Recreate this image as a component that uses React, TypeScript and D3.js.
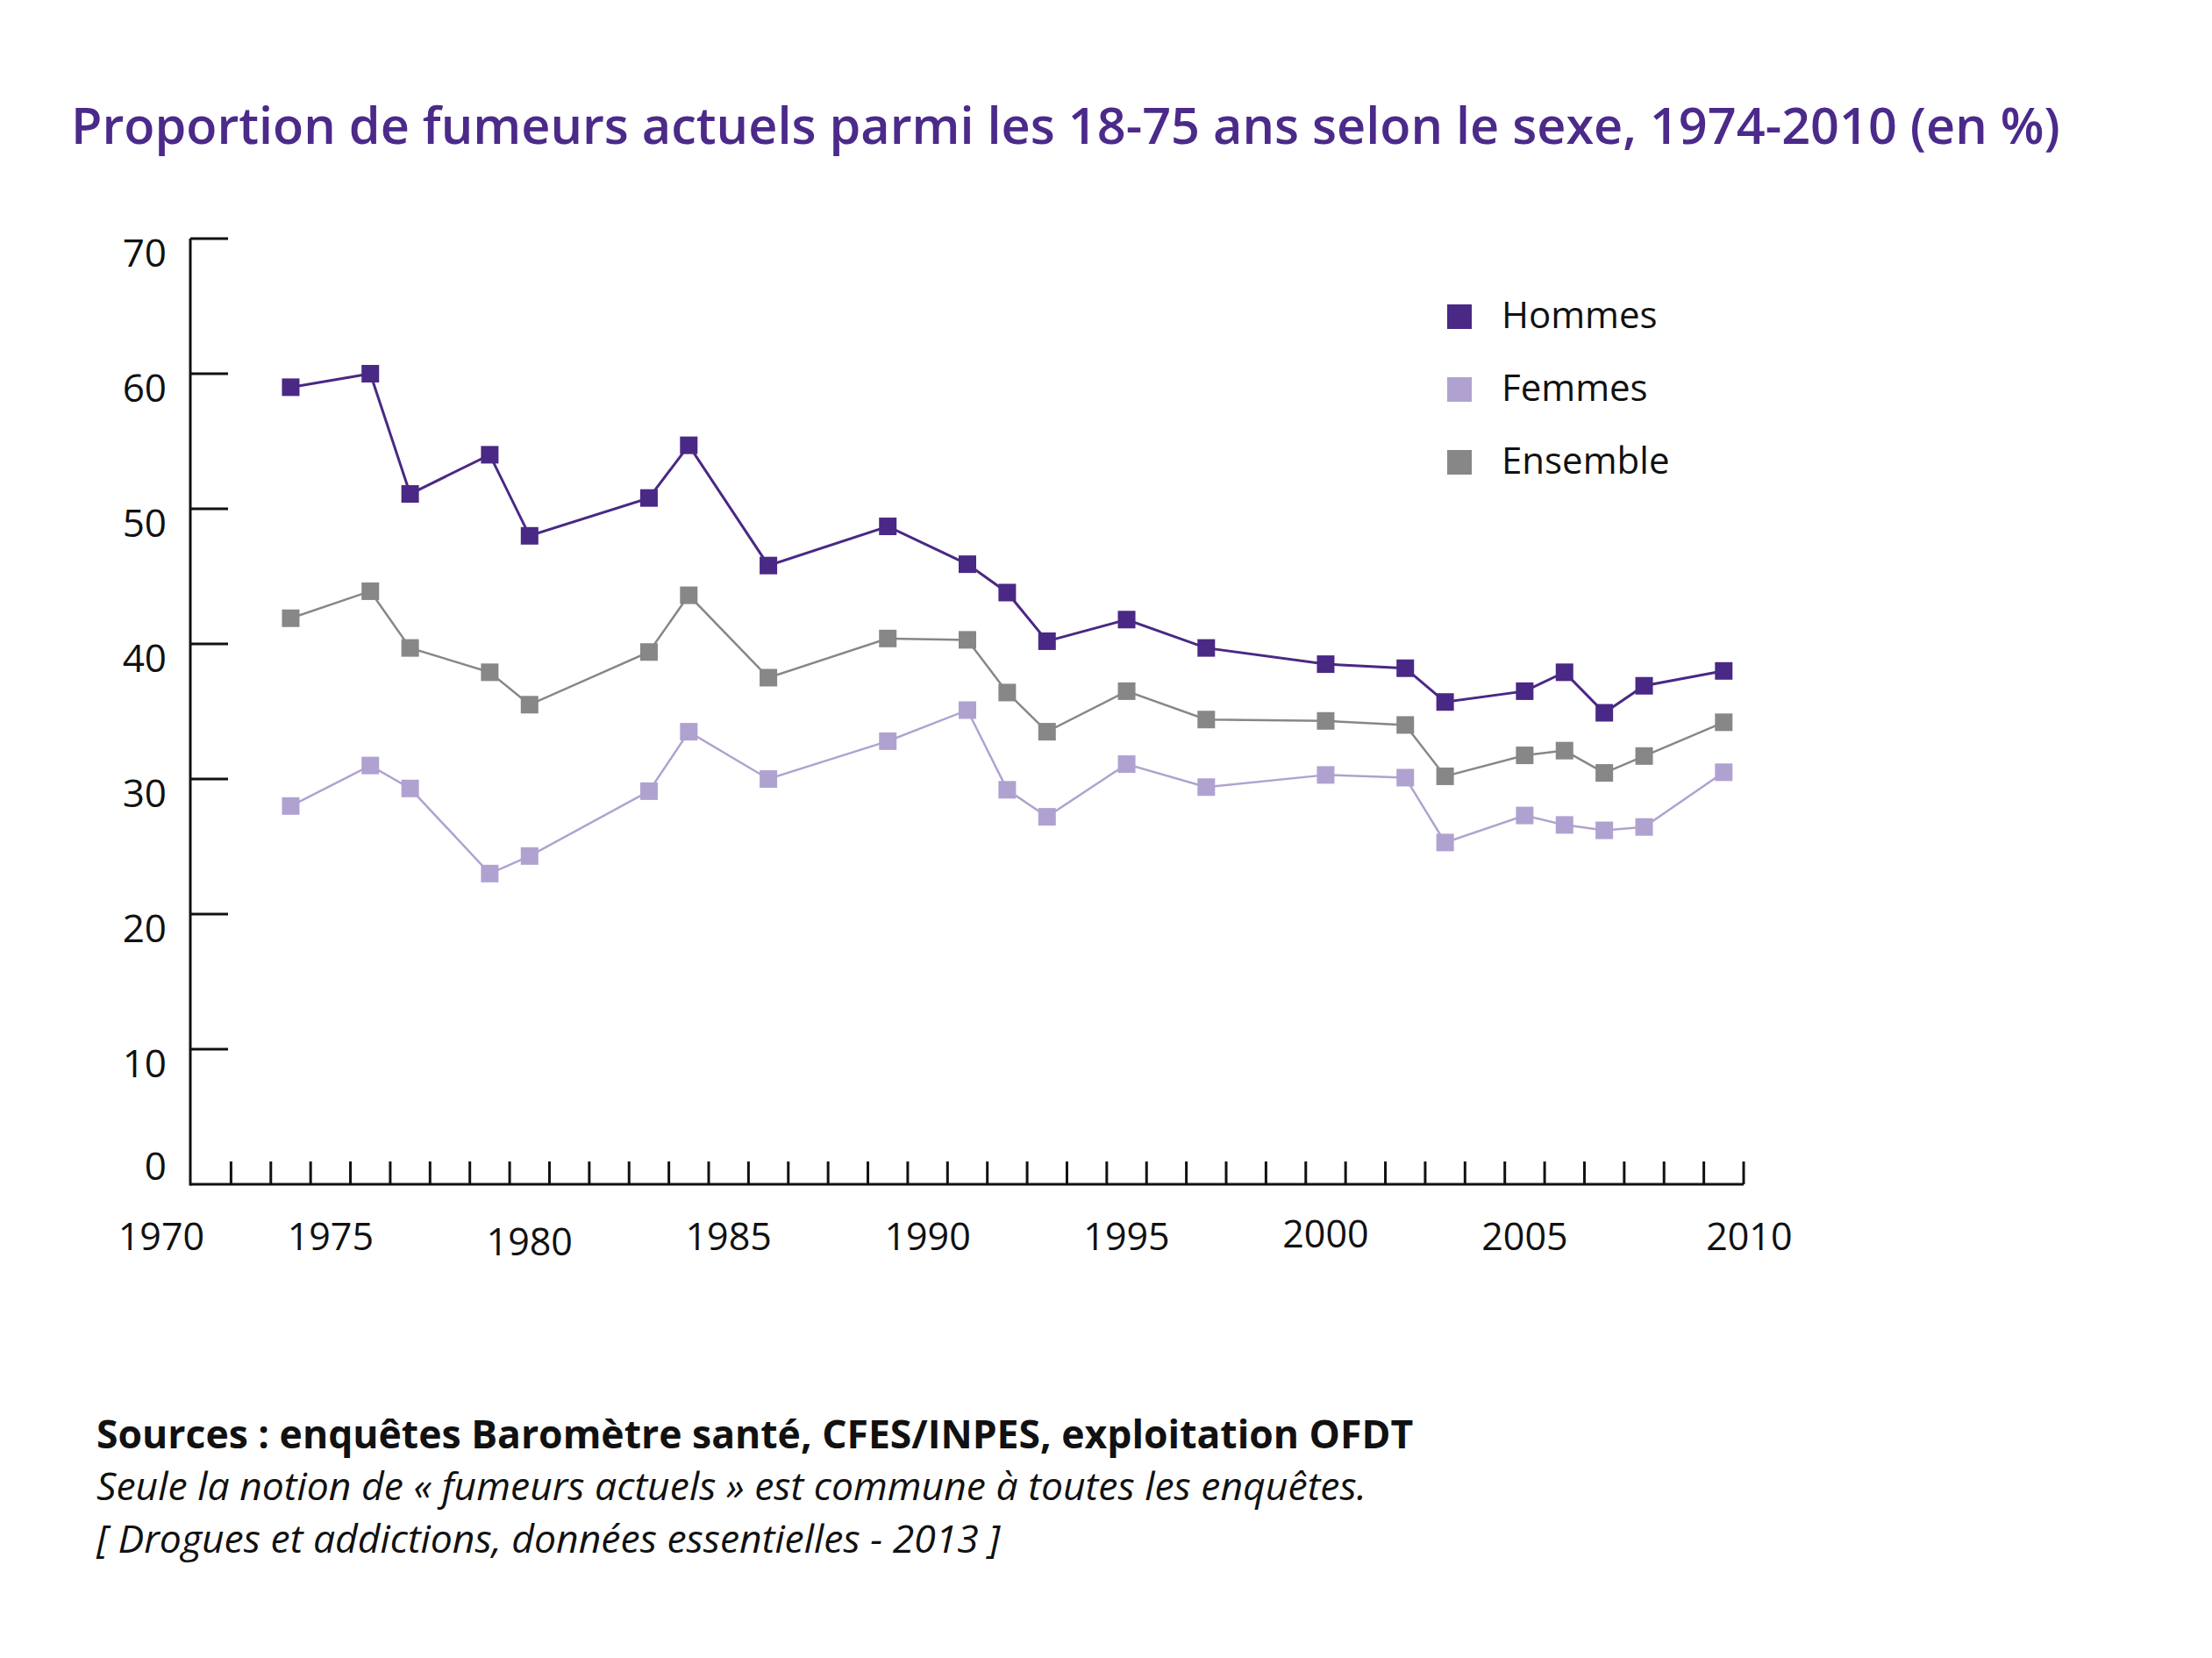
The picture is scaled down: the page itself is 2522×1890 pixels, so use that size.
import React, {useEffect, useRef} from "react";
import * as d3 from "d3";

// Years where a survey exists
const years = [
  1974, 1976, 1977, 1979, 1980, 1983, 1984, 1986, 1989, 1991, 1992, 1993,
  1995, 1997, 2000, 2002, 2003, 2005, 2006, 2007, 2008, 2010,
];

const hommes = [
  59, 60, 51.1, 54, 48, 50.8, 54.7, 45.8, 48.7, 45.9, 43.8, 40.2, 41.8, 39.7,
  38.5, 38.2, 35.7, 36.5, 37.9, 34.9, 36.9, 38,
];
const femmes = [
  28, 31, 29.3, 23, 24.3, 29.1, 33.5, 30, 32.8, 35.1, 29.2, 27.2, 31.1, 29.4,
  30.3, 30.1, 25.3, 27.3, 26.6, 26.2, 26.45, 30.5,
];
const ensemble = [
  41.9, 43.9, 39.7, 37.9, 35.5, 39.4, 43.6, 37.5, 40.4, 40.3, 36.4, 33.5, 36.5,
  34.4, 34.3, 34.0, 30.2, 31.75, 32.1, 30.45, 31.7, 34.2,
];

const seriesNames = ["Hommes", "Femmes", "Ensemble"];
const seriesColors = ["#4a2885", "#b0a2d0", "#878787"];

const yTicks = [0, 10, 20, 30, 40, 50, 60, 70];
const yearLabels = [1970, 1975, 1980, 1985, 1990, 1995, 2000, 2005, 2010];

const title =
  "Proportion de fumeurs actuels parmi les 18-75 ans selon le sexe, 1974-2010 (en %)";
const sourceLine = "Sources : enquêtes Baromètre santé, CFES/INPES, exploitation OFDT";
const noteLine = "Seule la notion de « fumeurs actuels » est commune à toutes les enquêtes.";
const refLine = "[ Drogues et addictions, données essentielles - 2013 ]";

const FONT = "'Open Sans', 'Noto Sans', sans-serif";

function createChart(node: SVGSVGElement) {
  const svg = d3.select(node);
  svg.selectAll("*").remove();

  const left = 217,
    right = 1988,
    top = 272,
    bottom = 1350;

  // one band per year, ticks sit between years
  const x = d3.scaleLinear().domain([1971.5, 2010.5]).range([left + 1, right]);
  const y = d3.scaleLinear().domain([0, 70]).range([bottom, top]);

  svg
    .append("text")
    .attr("x", 81)
    .attr("y", 164)
    .attr("font-family", FONT)
    .attr("font-weight", 600)
    .attr("font-size", 57.6)
    .attr("fill", "#4b2a8a")
    .text(title);

  const axis = svg.append("g").attr("stroke", "#111").attr("stroke-width", 3);

  // y axis
  axis
    .append("line")
    .attr("x1", left)
    .attr("x2", left)
    .attr("y1", y(70))
    .attr("y2", bottom + 1.5);
  axis
    .selectAll(".ytick")
    .data(yTicks.filter((d) => d > 0))
    .enter()
    .append("line")
    .attr("x1", left)
    .attr("x2", left + 43)
    .attr("y1", (d) => y(d))
    .attr("y2", (d) => y(d));

  // labels hang below their tick, except 0 which sits on the axis
  svg
    .append("g")
    .selectAll("text")
    .data(yTicks)
    .enter()
    .append("text")
    .attr("x", 190)
    .attr("y", (d) => (d === 0 ? y(d) - 5 : y(d) + 32))
    .attr("text-anchor", "end")
    .attr("font-family", FONT)
    .attr("font-size", 44)
    .attr("fill", "#111")
    .text((d) => d);

  // x axis
  axis
    .append("line")
    .attr("x1", left)
    .attr("x2", right)
    .attr("y1", bottom)
    .attr("y2", bottom);
  const boundaries = d3.range(1972.5, 2011, 1);
  axis
    .selectAll(".xtick")
    .data(boundaries)
    .enter()
    .append("line")
    .attr("x1", (d) => x(d))
    .attr("x2", (d) => x(d))
    .attr("y1", bottom)
    .attr("y2", bottom - 26);

  const nudgeX: Record<number, number> = {1970: 34, 2010: 29};
  const nudgeY: Record<number, number> = {1980: 6, 2000: -3};
  svg
    .append("g")
    .selectAll("text")
    .data(yearLabels)
    .enter()
    .append("text")
    .attr("x", (d) => x(d) + (nudgeX[d] || 0))
    .attr("y", (d) => 1425 + (nudgeY[d] || 0))
    .attr("text-anchor", "middle")
    .attr("font-family", FONT)
    .attr("font-size", 43)
    .attr("fill", "#111")
    .text((d) => d);

  // series
  const allSeries = [hommes, femmes, ensemble];
  const line = d3
    .line<number>()
    .x((_, i) => x(years[i]))
    .y((d) => y(d));

  // draw Femmes and Ensemble under Hommes
  [1, 2, 0].forEach((s) => {
    const g = svg.append("g");
    g.append("path")
      .datum(allSeries[s])
      .attr("d", line)
      .attr("fill", "none")
      .attr("stroke", seriesColors[s])
      .attr("stroke-width", s === 0 ? 3 : 2.5);
    g.selectAll("rect")
      .data(allSeries[s])
      .enter()
      .append("rect")
      .attr("x", (_, i) => x(years[i]) - 10)
      .attr("y", (d) => y(d) - 10)
      .attr("width", 20)
      .attr("height", 20)
      .attr("fill", seriesColors[s]);
  });

  // legend
  const legend = svg
    .append("g")
    .selectAll("g")
    .data(seriesNames)
    .enter()
    .append("g")
    .attr("transform", (_, i) => `translate(1650, ${347 + i * 83})`);
  legend
    .append("rect")
    .attr("width", 28)
    .attr("height", 28)
    .attr("fill", (_, i) => seriesColors[i]);
  legend
    .append("text")
    .attr("x", 62)
    .attr("y", 27)
    .attr("font-family", FONT)
    .attr("font-size", 42)
    .attr("fill", "#111")
    .text((d) => d);

  // footer
  const foot = svg
    .append("g")
    .attr("font-family", FONT)
    .attr("font-size", 44.5)
    .attr("fill", "#111");
  foot.append("text").attr("x", 110).attr("y", 1651).attr("font-weight", 700).text(sourceLine);
  foot.append("text").attr("x", 110).attr("y", 1710).attr("font-style", "italic").text(noteLine);
  foot.append("text").attr("x", 110).attr("y", 1770).attr("font-style", "italic").text(refLine);
}

export default function App() {
  const ref = useRef<SVGSVGElement>(null);
  useEffect(() => {
    if (ref.current) createChart(ref.current);
  }, []);

  return (
    <svg
      ref={ref}
      width={2522}
      height={1890}
      style={{position: "absolute", left: 0, top: 0, background: "#fff"}}
    />
  );
}
